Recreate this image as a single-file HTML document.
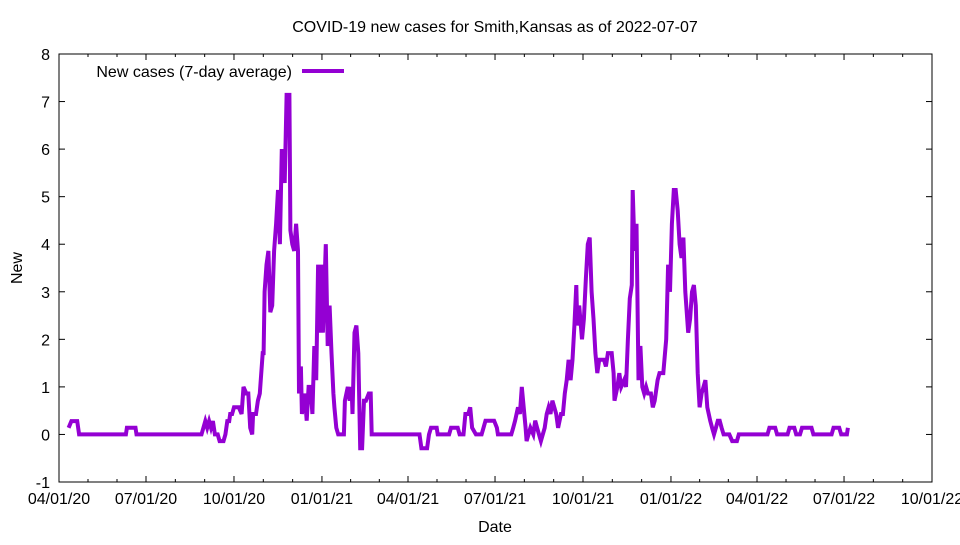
<!DOCTYPE html>
<html><head><meta charset="utf-8"><style>
body{margin:0;background:#fff;}
svg text{font-family:"Liberation Sans",sans-serif;font-size:16px;fill:#000;}
</style></head><body>
<svg id="chart" width="960" height="540">
<text x="495" y="32" text-anchor="middle">COVID-19 new cases for Smith,Kansas as of 2022-07-07</text>
<text x="495" y="532" text-anchor="middle">Date</text>
<text x="22" y="268" text-anchor="middle" transform="rotate(-90 22 268)">New</text>
<g id="axes"></g>
<g id="series"></g>
<g>
<text x="292" y="77" text-anchor="end">New cases (7-day average)</text>
<line x1="302" y1="71" x2="344" y2="71" stroke="#9400d3" stroke-width="4"/>
</g>
</svg>
<script>
const days=[10,13,19,21,70,71,80,81,149,151,153,155,157,159,161,163,166,168,172,174,176,178,179,181,183,188,191,193,196,198,200,202,203,206,208,210,213,214,215,217,219,221,223,225,227,229,231,233,236,238,241,242,244,246,248,250,251,253,254,257,259,261,263,265,267,269,271,273,275,276,279,281,283,285,287,288,290,292,298,299,302,304,306,307,309,311,313,315,317,319,321,324,326,327,377,379,385,387,389,395,396,408,410,417,419,423,425,428,430,432,436,442,444,446,455,458,459,473,475,477,480,482,484,486,488,489,491,493,496,498,500,504,506,508,510,512,514,516,518,520,522,525,527,529,531,533,535,537,539,541,542,544,547,549,551,553,555,557,559,561,563,565,570,572,574,578,580,581,584,586,588,591,593,595,597,599,600,602,604,606,608,610,612,614,616,619,621,623,626,628,632,635,637,639,641,643,645,647,649,651,653,655,658,660,662,664,666,668,670,672,674,676,678,681,683,685,687,689,691,693,695,697,701,704,709,711,741,743,749,751,762,764,769,771,775,777,787,789,808,810,816,818,824,825];
const values=[0.14,0.28,0.28,0,0,0.14,0.14,0,0,0.14,0.28,0.14,0.28,0.14,0.28,0,0,-0.14,-0.14,0,0.28,0.28,0.43,0.43,0.57,0.57,0.43,1.0,0.86,0.86,0.14,0,0.43,0.43,0.71,0.86,1.71,1.71,3.0,3.57,3.86,2.57,2.71,3.86,4.43,5.14,4.0,6.0,5.29,7.14,7.14,4.29,4.0,3.86,4.43,3.86,0.86,1.43,0.43,0.86,0.29,1.0,1.0,0.43,1.86,1.14,3.57,2.14,3.57,2.14,4.0,1.86,2.71,1.71,0.86,0.57,0.14,0,0,0.71,1.0,0.71,1.0,0.43,2.14,2.29,1.71,-0.29,-0.29,0.71,0.71,0.86,0.86,0,0,-0.29,-0.29,0,0.14,0.14,0,0,0.14,0.14,0,0,0.43,0.43,0.57,0.14,0,0,0.14,0.29,0.29,0.14,0,0,0.14,0.29,0.57,0.43,1.0,0.57,0.14,-0.14,0,0.14,0,0.29,0.14,-0.14,0,0.14,0.43,0.57,0.43,0.71,0.57,0.43,0.14,0.43,0.43,0.86,1.14,1.57,1.14,1.57,2.29,3.14,2.29,2.71,2.0,2.43,3.29,4.0,4.14,3.0,2.43,1.71,1.29,1.57,1.57,1.43,1.71,1.71,1.29,0.71,1.0,1.29,1.0,1.14,1.0,2.0,2.86,3.14,5.14,3.86,4.43,1.14,1.86,1.0,0.86,1.0,0.86,0.86,0.57,0.71,1.14,1.29,1.29,2.0,3.57,3.0,4.43,5.14,5.14,4.71,4.0,3.71,4.14,3.0,2.14,2.43,3.0,3.14,2.71,1.29,0.57,0.86,1.0,1.14,0.57,0.29,0.14,0,0.14,0.29,0.29,0.14,0,0,0,-0.14,-0.14,0,0,0.14,0.14,0,0,0.14,0.14,0,0,0.14,0.14,0,0,0.14,0.14,0,0,0.14];
const yTicks=[-1,0,1,2,3,4,5,6,7,8];
const xTickDays=[0,91,183,275,365,456,548,640,730,821,913];
const xTickLabels=["04/01/20","07/01/20","10/01/20","01/01/21","04/01/21","07/01/21","10/01/21","01/01/22","04/01/22","07/01/22","10/01/22"];
const L=59,R=932,T=54,B=482,DMAX=913;
const xs=d=>L+(R-L)*d/DMAX;
const ys=v=>B-(B-T)*(v+1)/9;
const NS="http://www.w3.org/2000/svg";
const axes=document.getElementById('axes');
function mk(tag,attrs,parent){const e=document.createElementNS(NS,tag);for(const k in attrs)e.setAttribute(k,attrs[k]);parent.appendChild(e);return e;}
const frame=mk('rect',{x:L,y:T,width:R-L,height:B-T,fill:'none',stroke:'#000','stroke-width':1},axes);


yTicks.forEach(v=>{
  const y=ys(v);
  const t1=mk('line',{x1:L,y1:y,x2:L+6,y2:y,stroke:'#000'},axes);
  
  
  mk('line',{x1:R,y1:y,x2:R-6,y2:y,stroke:'#000'},axes);
  const tx=mk('text',{x:L-9,y:y+6,'text-anchor':'end'},axes);
  tx.textContent=v;
  
  
});
xTickDays.forEach((d,i)=>{
  const x=xs(d);
  const t1=mk('line',{x1:x,y1:B,x2:x,y2:B-6,stroke:'#000'},axes);
  
  
  mk('line',{x1:x,y1:T,x2:x,y2:T+6,stroke:'#000'},axes);
  const tx=mk('text',{x:x,y:B+22,'text-anchor':'middle'},axes);
  tx.textContent=xTickLabels[i];
  
  
  if(i<xTickDays.length-1){
    for(let k=1;k<3;k++){
      const md=d+(xTickDays[i+1]-d)*k/3;
      mk('line',{x1:xs(md),y1:B,x2:xs(md),y2:B-3,stroke:'#000'},axes);
      mk('line',{x1:xs(md),y1:T,x2:xs(md),y2:T+3,stroke:'#000'},axes);
    }
  }
});
const pts=days.map((d,i)=>xs(d).toFixed(1)+','+ys(values[i]).toFixed(1)).join(' ');
const line=mk('polyline',{points:pts,fill:'none',stroke:'#9400d3','stroke-width':4,'stroke-linejoin':'miter'},document.getElementById('series'));


</script>
</body></html>
